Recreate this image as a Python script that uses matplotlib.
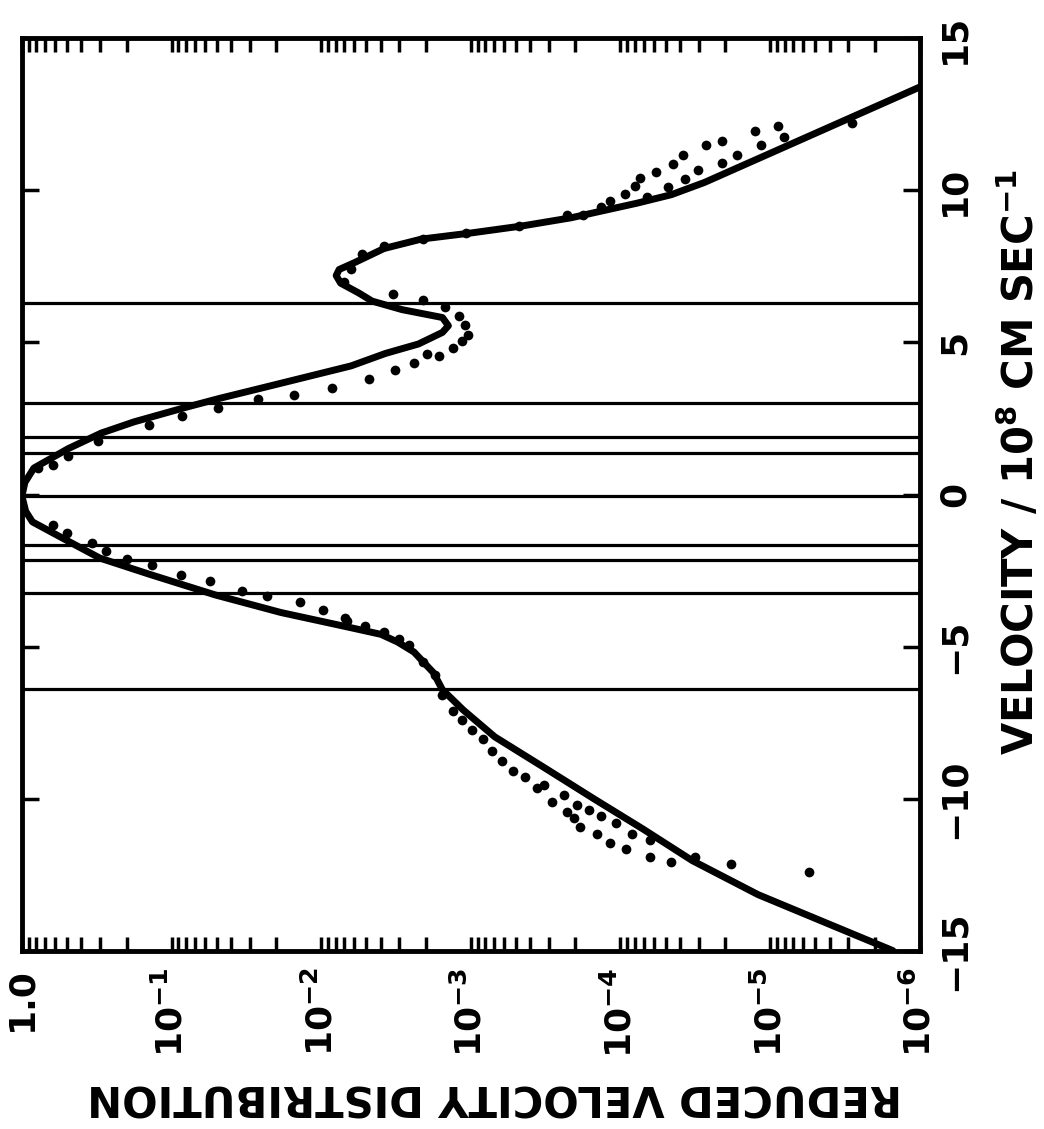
import matplotlib.pyplot as plt
import numpy as np
from matplotlib.ticker import FixedLocator, LogLocator, NullFormatter

plt.rcParams['font.family'] = 'DejaVu Sans'
plt.rcParams['font.weight'] = 'bold'
plt.rcParams['axes.labelweight'] = 'bold'
plt.rcParams['mathtext.fontset'] = 'dejavusans'
plt.rcParams['mathtext.default'] = 'bf'

# fitted curve, log10 of reduced distribution against velocity (1e8 cm/s)
curve_logf = [-5.82, -5.36, -4.92, -4.48, -4.15, -3.82, -3.49, -3.16, -2.95, -2.81,
              -2.75, -2.62, -2.51, -2.40, -2.17, -1.73, -1.29, -0.85, -0.52, -0.30,
              -0.07, -0.025, 0.0, -0.02, -0.08, -0.31, -0.53, -0.75, -1.09, -1.32,
              -1.65, -2.20, -2.43, -2.65, -2.81, -2.85, -2.81, -2.54, -2.34, -2.25,
              -2.13, -2.10, -2.12, -2.22, -2.42, -2.67, -3.00, -3.34, -3.67, -3.89,
              -4.11, -4.34, -4.56, -6.0]
curve_v = [-15.0, -14.06, -13.16, -12.04, -11.0, -10.0, -8.98, -7.97, -7.09, -6.42,
           -5.86, -5.18, -4.85, -4.6, -4.35, -3.88, -3.3, -2.62, -2.09, -1.51,
           -0.9, -0.55, -0.05, 0.4, 0.87, 1.51, 2.02, 2.39, 2.86, 3.16,
           3.56, 4.23, 4.64, 4.95, 5.33, 5.55, 5.82, 6.08, 6.36, 6.63,
           6.95, 7.2, 7.4, 7.62, 8.09, 8.4, 8.6, 8.83, 9.1, 9.34,
           9.58, 9.86, 10.26, 13.4]

# measured points
pts_logf = [-2.07, -1.82, -1.58, -1.31, -1.07, -0.85, -0.51, -0.31, -0.21, -0.11,
            -0.21, -0.30, -0.47, -0.56, -0.70, -0.87, -1.06, -1.26, -1.47, -1.64,
            -1.86, -2.01, -2.16,
            -2.32, -2.49, -2.62, -2.71, -2.79, -2.88, -2.94, -2.98, -2.96, -2.92, -2.83,
            -2.48, -2.68, -2.15, -2.20,
            -2.27, -2.42, -2.68, -2.97, -3.32, -3.64, -3.75, -3.87, -3.93, -4.03,
            -4.10, -4.13, -4.18, -4.24, -4.32, -4.35, -4.43, -4.42, -4.52, -4.57,
            -4.68, -4.68, -4.78, -4.90, -4.94, -5.05, -5.09, -5.55,
            -2.17, -2.29, -2.42, -2.52, -2.59, -2.68, -2.76, -2.81, -2.88, -2.94,
            -3.01, -3.08, -3.14, -3.21, -3.28, -3.36, -3.44, -3.49, -3.54, -3.62,
            -3.64, -3.69, -3.73, -3.71, -3.79, -3.84, -3.87, -3.93, -3.97, -4.04,
            -4.08, -4.20, -4.34, -4.20, -4.50, -4.74, -5.26]
pts_v = [3.49, 3.28, 3.14, 2.83, 2.59, 2.29, 1.76, 1.28, 0.96, 0.87,
         -1.01, -1.28, -1.6, -1.87, -2.11, -2.32, -2.64, -2.86, -3.17, -3.35,
         -3.54, -3.81, -4.06,
         3.79, 4.1, 4.33, 4.61, 4.57, 4.83, 5.05, 5.25, 5.58, 5.88, 6.15,
         6.58, 6.39, 7.0, 7.4,
         7.91, 8.16, 8.4, 8.6, 8.83, 9.2, 9.19, 9.44, 9.66, 9.88,
         10.14, 10.4, 9.8, 10.62, 10.12, 10.87, 10.38, 11.16, 10.66, 11.48,
         11.63, 10.91, 11.16, 11.94, 11.48, 12.13, 11.76, 12.21,
         -4.16, -4.33, -4.51, -4.75, -4.95, -5.52, -5.92, -6.59, -7.12, -7.42,
         -7.76, -8.03, -8.42, -8.76, -9.1, -9.3, -9.64, -9.55, -10.11, -9.88,
         -10.45, -10.65, -10.95, -10.22, -10.39, -11.16, -10.57, -11.46, -10.81, -11.67,
         -11.15, -11.91, -12.09, -11.36, -11.91, -12.16, -12.41]

# velocities of the horizontal marker lines
line_v = [6.3, 3.0, 1.9, 1.35, -0.05, -1.65, -2.15, -3.25, -6.4]

dist_ticks = [1.0, 1e-1, 1e-2, 1e-3, 1e-4, 1e-5, 1e-6]
dist_labels = ['1.0', r'$10^{-1}$', r'$10^{-2}$', r'$10^{-3}$',
               r'$10^{-4}$', r'$10^{-5}$', r'$10^{-6}$']
vel_ticks = [-15, -10, -5, 0, 5, 10, 15]
vel_labels = ['\u221215', '\u221210', '\u22125', '0', '5', '10', '15']

fig = plt.figure(figsize=(10.44, 11.29), dpi=100)
ax = fig.add_axes([0.021, 0.158, 0.860, 0.808])

for v in line_v:
    ax.axhline(v, color='k', lw=2.3)
ax.plot(10.0 ** np.array(curve_logf), curve_v, color='k', lw=5,
        solid_joinstyle='round', solid_capstyle='round')
ax.plot(10.0 ** np.array(pts_logf), pts_v, 'o', color='k', ms=7, mec='none')

ax.set_xscale('log')
ax.set_xlim(1.0, 1e-6)
ax.set_ylim(-15, 15)

ax.xaxis.set_major_locator(FixedLocator(dist_ticks))
ax.xaxis.set_minor_locator(LogLocator(base=10, subs=np.arange(2, 10), numticks=20))
ax.xaxis.set_minor_formatter(NullFormatter())
ax.set_xticklabels(dist_labels)
ax.set_yticks(vel_ticks)
ax.set_yticklabels(vel_labels)

ax.tick_params(axis='x', which='both', direction='in', top=True, bottom=True,
               length=10, width=2.5, pad=12, labelsize=26, labelrotation=90)
ax.tick_params(axis='y', direction='in', left=True, right=True,
               labelleft=False, labelright=True, length=12, width=2.5,
               pad=13, labelsize=26, labelrotation=90)
for lab in ax.get_yticklabels():
    lab.set_va('center')

for sp in ax.spines.values():
    sp.set_linewidth(3.5)

ax.set_xlabel('REDUCED VELOCITY DISTRIBUTION', fontsize=30, fontweight='bold',
              rotation=180, va='center', ha='center')
ax.xaxis.set_label_coords(0.527, -0.16)
ax.yaxis.set_label_position('right')
ax.set_ylabel(r'VELOCITY / 10$^{8}$ CM SEC$^{-1}$', fontsize=30, fontweight='bold',
              rotation=90, va='center', ha='center')
ax.yaxis.set_label_coords(1.111, 0.536)

fig.savefig('out.png', dpi=100)
